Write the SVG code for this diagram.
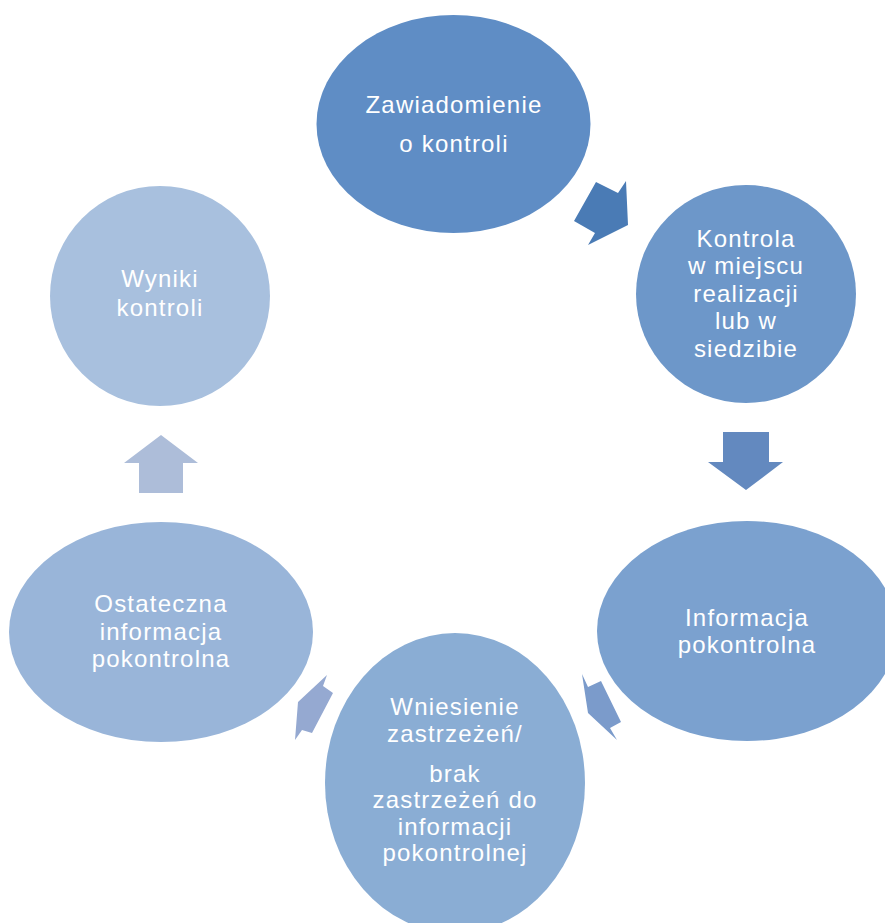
<svg xmlns="http://www.w3.org/2000/svg" width="885" height="923" viewBox="0 0 885 923">
<style>
.t{font-family:"Liberation Sans",Arial,sans-serif;font-size:24px;letter-spacing:1.2px;fill:#ffffff;text-anchor:middle}
</style>
<rect x="0" y="0" width="885" height="923" fill="#ffffff"/>
<g id="connectors">
<polygon id="a1" points="596,182 618,193 626,181 628,225 588,245 595,233 574,221" fill="#4a7bb5"/>
<polygon id="a2" points="723,432 769,432 769,462 783,462 746,490 708,462 723,462" fill="#6389bf"/>
<polygon id="a3" points="582,674 588,687 601,681 621,722 610,728 617,740 588,713" fill="#7b9bcb"/>
<polygon id="a4" points="327,675 323,686 333,693 312,733 302,730 295,740 298,702" fill="#95a9d1"/>
<polygon id="a5" points="161,435 198,463 183,463 183,493 139,493 139,463 124,463" fill="#adbdd9"/>
</g>
<g id="n1">
<ellipse cx="453.5" cy="124" rx="137" ry="109" fill="#5f8dc5"/>
<text class="t" x="454" y="113">Zawiadomienie</text>
<text class="t" x="454" y="152">o kontroli</text>
</g>
<g id="n2">
<ellipse cx="746" cy="294" rx="110" ry="109" fill="#6d97c9"/>
<text class="t" x="746" y="247">Kontrola</text>
<text class="t" x="746" y="274">w miejscu</text>
<text class="t" x="746" y="302">realizacji</text>
<text class="t" x="746" y="329">lub w</text>
<text class="t" x="746" y="357">siedzibie</text>
</g>
<g id="n3">
<ellipse cx="747" cy="631" rx="150" ry="110" fill="#7ba1cf"/>
<text class="t" x="747" y="626">Informacja</text>
<text class="t" x="747" y="653">pokontrolna</text>
</g>
<g id="n4">
<ellipse cx="455" cy="783" rx="130" ry="150" fill="#8aadd4"/>
<text class="t" x="455" y="715">Wniesienie</text>
<text class="t" x="455" y="742">zastrzeżeń/</text>
<text class="t" x="455" y="782">brak</text>
<text class="t" x="455" y="808">zastrzeżeń do</text>
<text class="t" x="455" y="835">informacji</text>
<text class="t" x="455" y="861">pokontrolnej</text>
</g>
<g id="n5">
<ellipse cx="161" cy="632" rx="152" ry="110" fill="#99b5d9"/>
<text class="t" x="161" y="612">Ostateczna</text>
<text class="t" x="161" y="640">informacja</text>
<text class="t" x="161" y="667">pokontrolna</text>
</g>
<g id="n6">
<ellipse cx="160" cy="296" rx="110" ry="110" fill="#a8c0de"/>
<text class="t" x="160" y="287">Wyniki</text>
<text class="t" x="160" y="316">kontroli</text>
</g>
</svg>
